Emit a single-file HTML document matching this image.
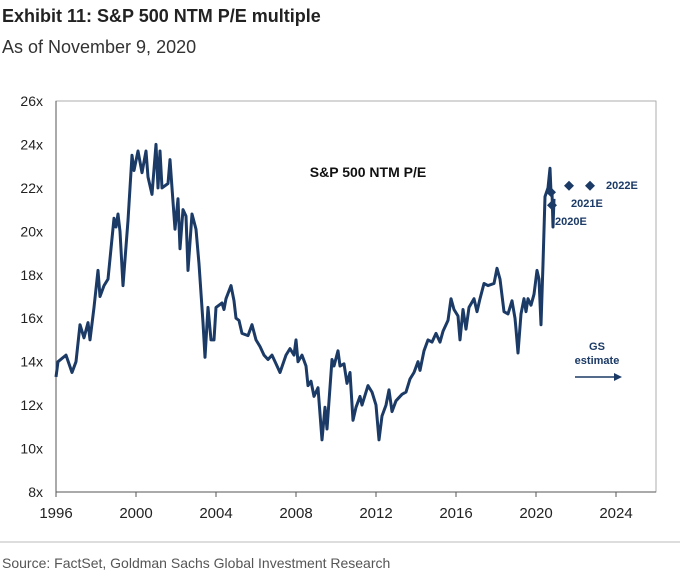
<!DOCTYPE html>
<html><head><meta charset="utf-8"><style>
body{margin:0;background:#fff;width:680px;height:579px;overflow:hidden;font-family:"Liberation Sans",Arial,sans-serif;}
</style></head><body>
<svg width="680" height="579" viewBox="0 0 680 579" font-family="Liberation Sans, Arial, sans-serif">
<text x="2" y="22" font-size="18" font-weight="bold" fill="#222">Exhibit 11: S&amp;P 500 NTM P/E multiple</text>
<text x="2" y="53" font-size="18" fill="#333">As of November 9, 2020</text>
<rect x="56" y="101" width="600" height="391" fill="none" stroke="#999" stroke-width="0.8"/>
<line x1="56" y1="101" x2="56" y2="492" stroke="#555" stroke-width="1"/>
<line x1="56" y1="492" x2="656" y2="492" stroke="#555" stroke-width="1"/>
<g id="yt"></g><g id="xt"></g>
<text x="368" y="177" font-size="14" font-weight="bold" text-anchor="middle" fill="#111">S&amp;P 500 NTM P/E</text>
<path id="line" fill="none" stroke="#1b3a66" stroke-width="3" stroke-linejoin="round"/>
<g id="est"></g>
<text x="606" y="189" font-size="11" font-weight="bold" fill="#1b3a66">2022E</text>
<text x="571" y="207" font-size="11" font-weight="bold" fill="#1b3a66">2021E</text>
<text x="555" y="225" font-size="11" font-weight="bold" fill="#1b3a66">2020E</text>
<text x="597" y="350" font-size="11" font-weight="bold" text-anchor="middle" fill="#1b3a66">GS</text>
<text x="597" y="364" font-size="11" font-weight="bold" text-anchor="middle" fill="#1b3a66">estimate</text>
<line x1="575" y1="377" x2="614" y2="377" stroke="#1b3a66" stroke-width="1.5"/>
<polygon points="614,373 622,377 614,381" fill="#1b3a66"/>
<line x1="0" y1="542" x2="680" y2="542" stroke="#bbb" stroke-width="1"/>
<text x="2" y="568" font-size="14" fill="#555">Source: FactSet, Goldman Sachs Global Investment Research</text>
</svg>
<script>
const years=[1996,1996.1,1996.5,1996.8,1997,1997.2,1997.4,1997.6,1997.7,1997.9,1998.1,1998.2,1998.4,1998.6,1998.9,1999,1999.1,1999.2,1999.35,1999.6,1999.8,1999.9,2000.1,2000.3,2000.5,2000.6,2000.8,2001,2001.1,2001.2,2001.3,2001.6,2001.7,2001.8,2001.95,2002.1,2002.2,2002.35,2002.5,2002.6,2002.8,2003,2003.15,2003.35,2003.45,2003.6,2003.75,2003.9,2004,2004.3,2004.4,2004.5,2004.75,2004.9,2005,2005.15,2005.3,2005.6,2005.8,2006,2006.2,2006.4,2006.6,2006.8,2007,2007.2,2007.5,2007.7,2007.9,2008,2008.1,2008.3,2008.5,2008.6,2008.75,2008.9,2009.1,2009.3,2009.45,2009.55,2009.8,2009.9,2010.1,2010.2,2010.4,2010.55,2010.7,2010.85,2011,2011.2,2011.3,2011.6,2011.8,2012,2012.15,2012.3,2012.5,2012.65,2012.8,2013,2013.3,2013.5,2013.7,2013.9,2014.1,2014.2,2014.4,2014.6,2014.8,2015,2015.2,2015.35,2015.6,2015.75,2015.9,2016.1,2016.2,2016.35,2016.5,2016.65,2016.9,2017.05,2017.2,2017.4,2017.6,2017.9,2018.05,2018.2,2018.4,2018.6,2018.8,2018.95,2019,2019.1,2019.25,2019.4,2019.5,2019.6,2019.75,2019.9,2020.05,2020.15,2020.25,2020.35,2020.45,2020.6,2020.7,2020.75,2020.8,2020.85,2020.9];
const pe=[13.3,14.0,14.3,13.5,14.0,15.7,15.1,15.8,15.0,16.5,18.2,17.0,17.5,17.8,20.6,20.2,20.8,20.0,17.5,20.5,23.5,22.8,23.7,22.7,23.7,22.5,21.7,24.0,22.0,23.7,22.0,22.2,23.3,22.0,20.1,21.5,19.2,21.0,20.7,18.2,20.8,20.1,18.5,15.8,14.2,16.5,15.0,15.0,16.5,16.7,16.4,16.9,17.5,16.8,16.0,15.9,15.3,15.2,15.7,15.0,14.7,14.3,14.1,14.3,13.9,13.5,14.3,14.6,14.3,15.0,14.0,14.3,13.8,12.9,13.1,12.4,12.8,10.4,11.9,10.9,14.1,13.8,14.5,13.8,13.9,13.0,13.5,11.3,11.9,12.4,12.0,12.9,12.6,12.0,10.4,11.5,12.0,12.7,11.7,12.2,12.5,12.6,13.2,13.5,14.0,13.6,14.5,15.0,14.9,15.3,14.9,15.4,15.9,16.9,16.4,16.1,15.0,16.4,15.5,16.5,16.9,16.3,16.9,17.6,17.5,17.6,18.3,17.8,16.3,16.2,16.8,16.0,15.5,14.4,16.2,16.9,16.3,16.9,16.6,17.1,18.2,17.8,15.7,18.5,21.6,22.0,22.9,21.8,21.8,20.2,21.5];
const estYears=[2020.8,2020.75,2021.65,2022.7];
const estVals=[21.2,21.8,22.1,22.1];
const yTicks=[8,10,12,14,16,18,20,22,24,26];
const xTicks=[1996,2000,2004,2008,2012,2016,2020,2024];
const X=v=>56+(v-1996)*20, Y=v=>492-(v-8)*(391/18);
const NS='http://www.w3.org/2000/svg';
const yt=document.getElementById('yt'),xt=document.getElementById('xt');
yTicks.forEach(t=>{const e=document.createElementNS(NS,'text');e.setAttribute('x',43);e.setAttribute('y',Y(t)+5);e.setAttribute('font-size','14');e.setAttribute('text-anchor','end');e.setAttribute('fill','#222');e.textContent=t+'x';


yt.appendChild(e);});
xTicks.forEach(t=>{const e=document.createElementNS(NS,'text');e.setAttribute('x',X(t));e.setAttribute('y',518);e.setAttribute('font-size','15');e.setAttribute('text-anchor','middle');e.setAttribute('fill','#222');e.textContent=t;


xt.appendChild(e);
const l=document.createElementNS(NS,'line');l.setAttribute('x1',X(t));l.setAttribute('x2',X(t));l.setAttribute('y1',492);l.setAttribute('y2',497);l.setAttribute('stroke','#555');


xt.appendChild(l);});
document.getElementById('line').setAttribute('d',years.map((y,i)=>(i?'L':'M')+X(y).toFixed(1)+','+Y(pe[i]).toFixed(1)).join(''));
const est=document.getElementById('est');
estYears.forEach((y,i)=>{const cx=X(y),cy=Y(estVals[i]);const p=document.createElementNS(NS,'polygon');p.setAttribute('points',`${cx},${cy-5} ${cx+5},${cy} ${cx},${cy+5} ${cx-5},${cy}`);p.setAttribute('fill','#1b3a66');


est.appendChild(p);});
</script>
</body></html>
